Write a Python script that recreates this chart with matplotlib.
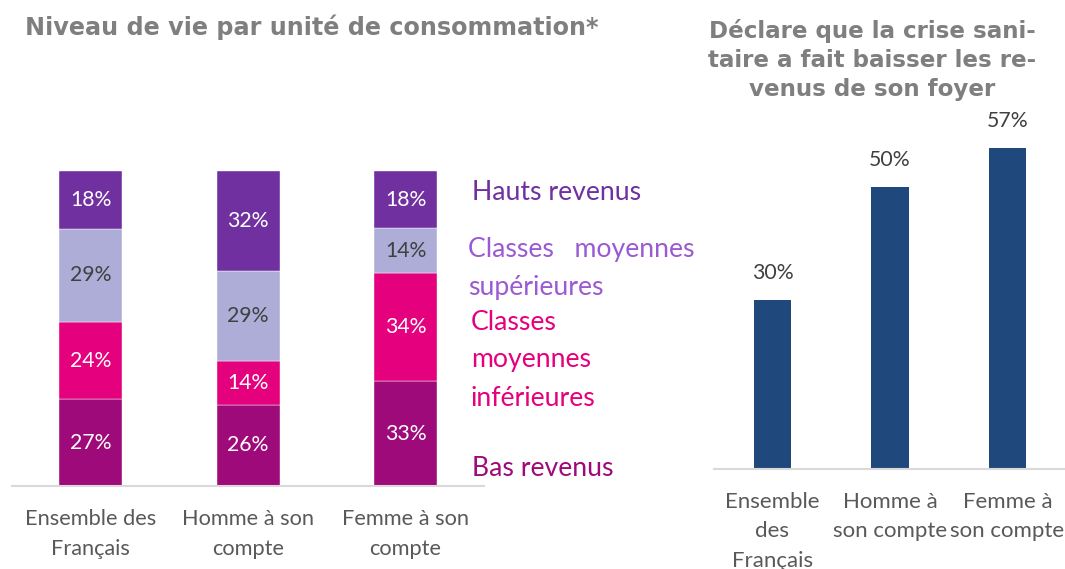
import matplotlib.pyplot as plt
import numpy as np

plt.rcParams['font.family'] = ['Lato', 'DejaVu Sans']

# left chart: income levels
groups_left = ['Ensemble des\nFrançais', 'Homme à son\ncompte', 'Femme à son\ncompte']
segments = ['Bas revenus', 'Classes\nmoyennes\ninférieures',
            'Classes   moyennes\nsupérieures', 'Hauts revenus']
bas = [27, 26, 33]
inf = [24, 14, 34]
sup = [29, 29, 14]
hauts = [18, 32, 18]

# right chart
groups_right = ['Ensemble\ndes\nFrançais', 'Homme à\nson compte', 'Femme à\nson compte']
baisse = [30, 50, 57]

seg_colors = ['#9E0A79', '#E5007E', '#ADADD8', '#7030A0']
seg_text = ['#9E0A79', '#E5007E', '#9B59D3', '#7030A0']
lbl_colors = ['white', 'white', '#404040', 'white']
grey = '#595959'

W, H = 1065, 569
fig = plt.figure(figsize=(W / 100, H / 100), dpi=100)


def px_axes(x0, y0, x1, y1):
    # pixel box (top-left origin) -> figure axes
    return fig.add_axes([x0 / W, 1 - y1 / H, (x1 - x0) / W, (y1 - y0) / H])


# ---- left stacked chart ----
ax = px_axes(11.75, 171, 484.25, 486)
data = np.array([bas, inf, sup, hauts], dtype=float)
share = data / data.sum(axis=0) * 100
x = np.arange(len(groups_left))
bottom = np.zeros(len(x))
for i in range(4):
    ax.bar(x, share[i], 0.4, bottom=bottom, color=seg_colors[i],
           edgecolor='white', linewidth=0.3)
    for j in range(len(x)):
        ax.text(x[j], bottom[j] + share[i][j] / 2, f'{int(data[i][j])}%',
                ha='center', va='center', fontsize=15.3, color=lbl_colors[i])
    bottom += share[i]
ax.set_xlim(-0.5, 2.5)
ax.set_ylim(0, 100)
ax.axis('off')
ax.axhline(0, color='#D9D9D9', lw=1.5, clip_on=False)
for j, g in enumerate(groups_left):
    ax.text(x[j], -7.3, g, ha='center', va='top', fontsize=15.7, color=grey,
            linespacing=1.63)

# segment labels
seg_pos = [(472, 468), (471, 360), (468, 269), (472, 193)]
for i in range(4):
    fig.text(seg_pos[i][0] / W, 1 - seg_pos[i][1] / H, segments[i],
             ha='left', va='center', fontsize=19.2, color=seg_text[i],
             linespacing=1.65)

fig.text(25 / W, 1 - 27 / H, 'Niveau de vie par unité de consommation*',
         ha='left', va='center', fontsize=17.2, fontweight='bold',
         color='#7F7F7F', family='DejaVu Sans')

# ---- right chart ----
ax2 = px_axes(713.75, 131, 1066.25, 469)
xr = np.arange(len(groups_right))
ax2.bar(xr, baisse, 0.315, color='#1F497D')
for j, v in enumerate(baisse):
    ax2.text(xr[j], v + 3, f'{v}%', ha='center', va='bottom', fontsize=15.3,
             color='#404040')
ax2.set_xlim(-0.5, 2.5)
ax2.set_ylim(0, 60)
ax2.axis('off')
ax2.axhline(0, color='#D9D9D9', lw=1.5, clip_on=False)
for j, g in enumerate(groups_right):
    ax2.text(xr[j], -4.0, g, ha='center', va='top', fontsize=16, color=grey,
             linespacing=1.6)

fig.text(872 / W, 1 - 60 / H,
         'Déclare que la crise sani-\ntaire a fait baisser les re-\nvenus de son foyer',
         ha='center', va='center', fontsize=16.6, fontweight='bold',
         color='#7F7F7F', family='DejaVu Sans', linespacing=1.35)

fig.savefig('out.png', dpi=100)
